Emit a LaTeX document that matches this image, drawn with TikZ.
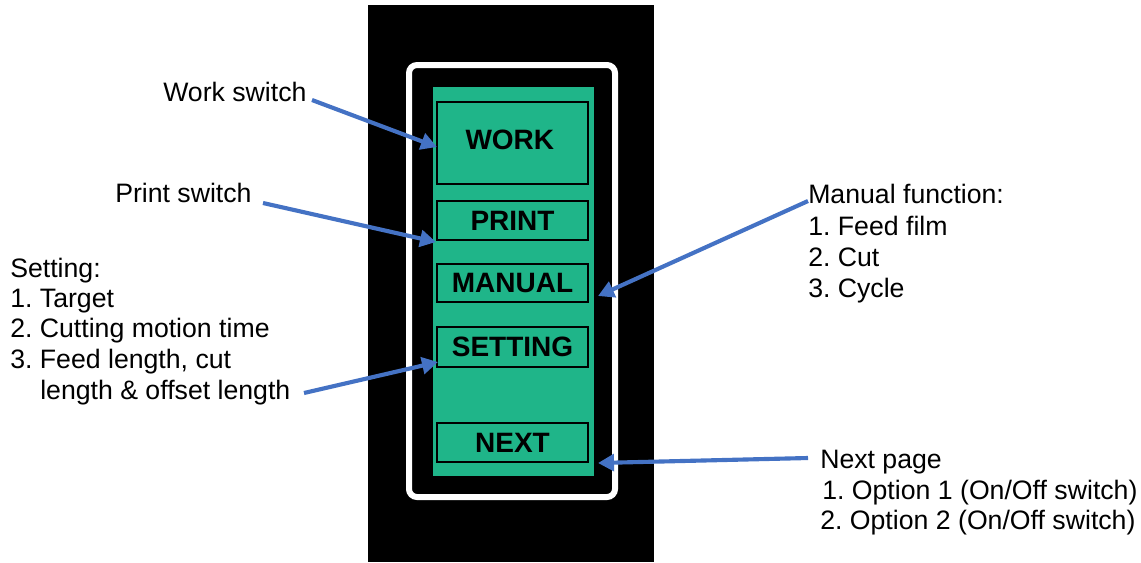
\documentclass[tikz,border=0pt]{standalone}
\usepackage{fontspec}
\setmainfont{Liberation Sans}
\usetikzlibrary{arrows.meta}
\frenchspacing
\definecolor{pgreen}{HTML}{1FB589}
\definecolor{pblue}{HTML}{4472C4}
\tikzset{
  lbl/.style={anchor=base west, inner sep=0pt, font=\fontsize{20}{22.5}\selectfont},
  btn/.style={draw=black, line width=1.2pt, fill=pgreen, inner sep=0pt, minimum width=113.25pt, font=\fontsize{21}{24}\selectfont\bfseries},
  callout/.style={draw=pblue, line width=3.1pt, -{Triangle[length=12pt,width=12.5pt]}}
}
\begin{document}
\begin{tikzpicture}[x=0.75pt,y=-0.75pt]
\useasboundingbox (0,0) rectangle (1141,562);
% device body
\fill[black] (368,5) rectangle (654,562);
\draw[white, line width=4.5pt, rounded corners=6pt] (409,65) rectangle (615,497);
\fill[pgreen] (433,87) rectangle (594,476);
% buttons
\node[btn, minimum height=61.5pt] (work) at (512.5,143) {WORK\hspace{4pt}\rule[-4.5pt]{0pt}{0pt}};
\node[btn, minimum height=29.25pt] (print) at (512.5,220.5) {PRINT};
\node[btn, minimum height=28.5pt] (manual) at (512.5,283) {MANUAL};
\node[btn, minimum height=30pt] (setting) at (512.5,347) {SETTING};
\node[btn, minimum height=29.25pt] (next) at (512.5,442.5) {NEXT};
% labels
\node[lbl] (lwork) at (163,101) {Work switch};
\node[lbl] (lprint) at (115,202) {Print switch};
\node[lbl] (ls0) at (10,277) {Setting:};
\node[lbl] (ls1) at (10,307) {1. Target};
\node[lbl] (ls2) at (10,337) {2. Cutting motion time};
\node[lbl] (ls3) at (10,368) {3. Feed length, cut};
\node[lbl] (ls4) at (40,399) {length \& offset length};
\node[lbl] (lm0) at (808,203) {Manual function:};
\node[lbl] (lm1) at (808,235) {1. Feed film};
\node[lbl] (lm2) at (808,266) {2. Cut};
\node[lbl] (lm3) at (808,297) {3. Cycle};
\node[lbl] (ln0) at (820,468) {Next page};
\node[lbl] (ln1) at (822,499) {1. Option 1 (On/Off switch)};
\node[lbl] (ln2) at (820,529) {2. Option 2 (On/Off switch)};
% arrow endpoints
\coordinate (wt) at (312,100);
\coordinate (wh) at (437,147);
\coordinate (pt) at (263,203);
\coordinate (ph) at (436,242);
\coordinate (st) at (304,393);
\coordinate (sh) at (438,362);
\coordinate (mt) at (808,201);
\coordinate (mh) at (598,296);
\coordinate (nt) at (808,458);
\coordinate (nh) at (598,463);
\draw[callout] (wt) -- (wh);
\draw[callout] (pt) -- (ph);
\draw[callout] (st) -- (sh);
\draw[callout] (mt) -- (mh);
\draw[callout] (nt) -- (nh);
\end{tikzpicture}
\end{document}
